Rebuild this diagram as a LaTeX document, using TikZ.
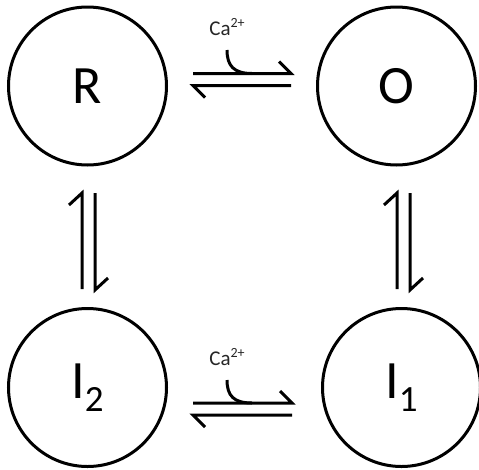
\documentclass[tikz,border=0pt]{standalone}
\usepackage{fontspec}
\setmainfont{Carlito}
\begin{document}
\begin{tikzpicture}[x=1pt,y=-1pt,
  state/.style={draw=black, line width=3pt, circle, minimum size=158pt, inner sep=0pt,
    font=\fontsize{54}{60}\selectfont},
  rxn/.style={draw=black, line width=3pt, line cap=butt, line join=miter},
  ion/.style={font=\fontsize{21}{23}\selectfont, text=black!85, inner sep=0pt, anchor=base}]
\useasboundingbox (0,0) rectangle (479,469);
\fill[white] (0,0) rectangle (479,469);
% states
\node[state] (R) at (87.5,86) {R};
\node[state] (O) at (396.5,86) {O};
\node[state] (I2) at (87.5,387.5) {I\raisebox{-13pt}{\fontsize{37}{40}\selectfont 2}};
\node[state] (I1) at (401.5,387.5) {I\raisebox{-13pt}{\fontsize{37}{40}\selectfont 1}};
% top horizontal harpoons R <-> O
\coordinate (t1a) at (193,73.5);
\coordinate (t1b) at (291,73.5);
\coordinate (t2a) at (193,85.5);
\coordinate (t2b) at (291,85.5);
\draw[rxn] (t1a) -- (t1b) -- ++(-12,-12);
\draw[rxn] (t2b) -- (t2a) -- ++(12,12);
\node[ion] (ca1) at (227,35) {Ca\raisebox{8pt}{\fontsize{14}{15}\selectfont 2+}};
\coordinate (c1) at (227,50);
\draw[rxn] (c1) .. controls (227,66) and (234,73.5) .. (252,73.5);
% bottom horizontal harpoons I2 <-> I1
\coordinate (b1a) at (193,403);
\coordinate (b1b) at (292,403);
\coordinate (b2a) at (193,415);
\coordinate (b2b) at (292,415);
\draw[rxn] (b1a) -- (b1b) -- ++(-12,-12);
\draw[rxn] (b2b) -- (b2a) -- ++(12,12);
\node[ion] (ca2) at (227,365) {Ca\raisebox{8pt}{\fontsize{14}{15}\selectfont 2+}};
\coordinate (c2) at (227,380);
\draw[rxn] (c2) .. controls (227,396) and (234,403) .. (252,403);
% left vertical harpoons R <-> I2
\coordinate (l1a) at (82,289);
\coordinate (l1b) at (82,193);
\coordinate (l2a) at (95,193);
\coordinate (l2b) at (95,290);
\draw[rxn] (l1a) -- (l1b) -- ++(-13,12);
\draw[rxn] (l2a) -- (l2b) -- ++(13,-12);
% right vertical harpoons O <-> I1
\coordinate (r1a) at (397,289);
\coordinate (r1b) at (397,193);
\coordinate (r2a) at (410,193);
\coordinate (r2b) at (410,290);
\draw[rxn] (r1a) -- (r1b) -- ++(-13,12);
\draw[rxn] (r2a) -- (r2b) -- ++(13,-12);
\end{tikzpicture}
\end{document}
